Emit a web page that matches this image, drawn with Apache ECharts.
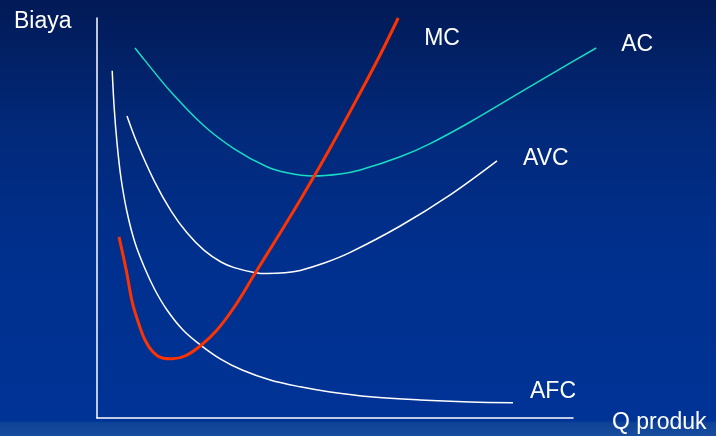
<!DOCTYPE html>
<html>
<head>
<meta charset="utf-8">
<script src="https://cdn.jsdelivr.net/npm/echarts@6/dist/echarts.min.js"></script>
<style>
  html, body { margin: 0; padding: 0; }
  #chart { width: 716px; height: 436px; }
</style>
</head>
<body>
<div id="chart"></div>
<script>
// Cost curves: quantity (Q) against cost (Biaya), arbitrary units
const mcData = [[5.5,45.3],[7.3,37],[8.8,29],[10.3,24],[12,19.5],[14,16.5],[16.3,15],[18.8,14.8],[22,15.5],[25.8,18],[30,22],[34.5,28],[39.3,35.8],[45,45],[50.8,54.5],[58.3,67.5],[65.8,81.3],[70.8,90.8],[75.3,100]];
const acData = [[9.5,92.5],[11.8,89.6],[18.5,81.5],[26.8,73],[34.3,67.3],[42.5,62.8],[47.5,61.3],[54,60.5],[60.8,61],[65.8,62],[75.8,65.3],[83.3,68.6],[93.3,74],[105.8,81.4],[115.8,87.3],[124.8,92.5]];
const avcData = [[7.5,75.5],[10,68.8],[14.3,59.3],[18.5,51.8],[22.5,46.3],[26.8,41.9],[31,39],[34.3,37.6],[39.3,36.4],[42.5,36.1],[47,36.3],[50.8,36.9],[57,38.8],[63.3,41.4],[75.8,48],[88.3,55.8],[100,64.3]];
const afcData = [[3.8,86.8],[4.3,77.5],[5,68.8],[6,60],[7.5,51.5],[9.5,43.8],[12,37.3],[14.5,32],[17.5,27],[21.5,22],[25.8,18.3],[30.8,14.8],[36.3,12],[43.3,9.5],[50.8,7.8],[58.3,6.5],[68.3,5.3],[80.8,4.5],[93.3,4],[104,3.8]];

const seriesNames = ['MC', 'AC', 'AVC', 'AFC'];
const xAxisTitle = 'Q produk';
const yAxisTitle = 'Biaya';

const FONT = '"Liberation Sans", Arial, sans-serif';
const labelStyle = { color: '#ffffff', fontFamily: FONT, fontSize: 23 };

function curve(name, data, color, width, offset) {
  return {
    name: name,
    type: 'line',
    xAxisIndex: 1,
    yAxisIndex: 1,
    data: data,
    smooth: 0.35,
    showSymbol: false,
    clip: false,
    lineStyle: { color: color, width: width },
    endLabel: Object.assign({ show: true, formatter: name, offset: offset }, labelStyle),
    z: name === 'MC' ? 3 : 2
  };
}

const hidden = {
  axisLine: { show: false }, axisTick: { show: false },
  axisLabel: { show: false }, splitLine: { show: false }
};
const whiteLine = { show: true, lineStyle: { color: '#ffffff', width: 1.5 } };

const chart = echarts.init(document.getElementById('chart'), null, { renderer: 'canvas' });
chart.setOption({
  animation: false,
  backgroundColor: {
    type: 'linear', x: 0, y: 0, x2: 0, y2: 1,
    colorStops: [
      { offset: 0, color: '#021a56' },
      { offset: 0.3, color: '#02297a' },
      { offset: 0.6, color: '#00308e' },
      { offset: 0.965, color: '#003396' },
      { offset: 0.97, color: '#0f4397' },
      { offset: 1, color: '#174b9c' }
    ]
  },
  grid: [
    // frame with the two axes
    { left: 97, right: 143, top: 18, bottom: 18 },
    // plotting area, same scale, wide enough for the AC tail
    { left: 97, right: 119, top: 18, bottom: 18 }
  ],
  xAxis: [
    Object.assign({ type: 'value', gridIndex: 0, min: 0, max: 119 }, hidden, { axisLine: whiteLine }),
    Object.assign({ type: 'value', gridIndex: 1, min: 0, max: 125 }, hidden)
  ],
  yAxis: [
    Object.assign({ type: 'value', gridIndex: 0, min: 0, max: 100 }, hidden, { axisLine: whiteLine }),
    Object.assign({ type: 'value', gridIndex: 1, min: 0, max: 100 }, hidden)
  ],
  graphic: [
    { type: 'text', left: 14, top: 10, style: { text: yAxisTitle, fill: '#ffffff', font: '23px ' + FONT } },
    { type: 'text', left: 612, top: 411, style: { text: xAxisTitle, fill: '#ffffff', font: '23px ' + FONT } }
  ],
  series: [
    curve(seriesNames[0], mcData, '#ff3300', 3, [18, 21]),
    curve(seriesNames[1], acData, '#19dcc4', 1.5, [17, -3]),
    curve(seriesNames[2], avcData, '#ffffff', 1.5, [18, -2]),
    curve(seriesNames[3], afcData, '#ffffff', 1.5, [9, -11])
  ]
});
</script>
</body>
</html>
